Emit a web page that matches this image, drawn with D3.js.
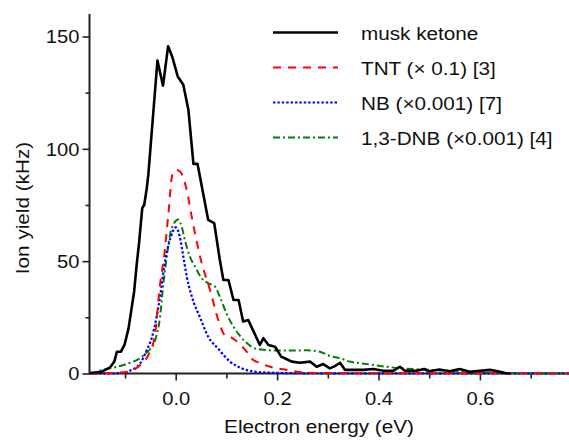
<!DOCTYPE html>
<html>
<head>
<meta charset="utf-8">
<script src="https://cdn.jsdelivr.net/npm/d3@7"></script>
<style>
    body { margin: 0; background: #fff; }
    #chart { width: 569px; height: 440px; }
    text { font-family: "Liberation Sans", Arial, sans-serif; fill: #111; }
</style>
</head>
<body>
<div id="chart"></div>
<script>
// electron attachment spectra

// musk ketone (black, jagged)
let mkE = [-0.169, -0.146, -0.130, -0.121, -0.116, -0.108, -0.101, -0.093, -0.087, -0.082, -0.077, -0.072,
    -0.066, -0.062, -0.057, -0.054, -0.044, -0.036, -0.025, -0.015, -0.007, 0.004, 0.015, 0.025, 0.035, 0.043,
    0.064, 0.076, 0.087, 0.094, 0.104, 0.114, 0.124, 0.133, 0.143, 0.166, 0.173, 0.183, 0.196, 0.208, 0.215,
    0.229, 0.245, 0.265, 0.278, 0.291, 0.304, 0.314, 0.324, 0.334, 0.350, 0.370, 0.390, 0.409, 0.429, 0.442,
    0.452, 0.475, 0.490, 0.500, 0.520, 0.540, 0.560, 0.580, 0.600, 0.620, 0.635, 0.650, 0.660];
let mkY = [0.2, 0.8, 2.6, 5.3, 9.7, 9.7, 12.7, 20.1, 29.0, 36.4, 48.3, 58.7,
    73.6, 75.1, 82.5, 88.4, 116.6, 139.3, 128.1, 145.6, 141.1, 132.2, 128.5, 117.4, 93.3, 93.3,
    68.4, 66.9, 50.6, 41.6, 41.6, 32.7, 32.7, 23.1, 23.8, 12.7, 15.7, 12.7, 11.9, 7.5, 6.8,
    5.3, 4.8, 5.3, 3.0, 4.2, 2.3, 3.3, 4.8, 1.6, 1.6, 1.6, 2.0, 1.2, 1.2, 3.0,
    1.2, 1.2, 2.0, 1.0, 1.8, 1.0, 2.0, 0.8, 1.2, 1.6, 1.0, 0.2, 0];

// TNT (x 0.1)
let tntE = [-0.169, -0.120, -0.093, -0.070, -0.054, -0.041, -0.031, -0.0225, -0.0146, -0.0067, 0.0, 0.0085,
    0.0217, 0.032, 0.0513, 0.0677, 0.084, 0.097, 0.107, 0.117, 0.137, 0.153, 0.163, 0.186, 0.219, 0.258,
    0.30, 0.40, 0.50, 0.60, 0.78];
let tntY = [0, 0.3, 0.8, 3.8, 8.2, 17.1, 39.4, 52.8, 70.6, 88.4, 90.6, 89.9,
    81.7, 69.3, 49.1, 37.2, 23.8, 17.1, 16.4, 14.9, 10.5, 6.0, 4.9, 3.0, 1.6, 0.4,
    0.2, 0.1, 0.1, 0.1, 0];

// NB (x0.001)
let nbE = [-0.169, -0.120, -0.103, -0.087, -0.070, -0.057, -0.047, -0.0375, -0.031, -0.021, -0.010, 0.0,
    0.008, 0.015, 0.022, 0.035, 0.048, 0.064, 0.084, 0.107, 0.130, 0.156, 0.196, 0.25, 0.78];
let nbY = [0, 0.1, 0.3, 1.6, 4.5, 10.5, 16, 25.5, 34, 50, 60.5, 65,
    61, 52, 43, 32, 25, 16.4, 11, 5.3, 2.3, 0.8, 0.3, 0.1, 0];

// 1,3-DNB (x0.001)
let dnbE = [-0.169, -0.159, -0.150, -0.130, -0.110, -0.090, -0.070, -0.060, -0.050, -0.041, -0.031, -0.0245,
    -0.018, -0.011, -0.003, 0.005, 0.0118, 0.018, 0.028, 0.038, 0.051, 0.064, 0.0775, 0.087, 0.100, 0.117,
    0.137, 0.156, 0.175, 0.216, 0.258, 0.284, 0.304, 0.324, 0.343, 0.364, 0.396, 0.416, 0.449, 0.475,
    0.541, 0.607, 0.65, 0.78];
let dnbY = [0, 0.3, 1.2, 2.3, 3.3, 4.8, 6.8, 8.8, 11, 14.5, 25, 39.4,
    51.3, 62, 67, 68.5, 65.4, 59.5, 52, 47.6, 42.5, 40.2, 38.7, 34.2, 26.8, 19.8,
    14.2, 11.2, 10.5, 10.2, 10.3, 9.7, 7.8, 6.8, 5.3, 4.6, 3.6, 3.0, 2.2, 1.9,
    1.2, 0.4, 0.2, 0.1];

let seriesNames = ["musk ketone", "TNT (\u00d7 0.1) [3]", "NB (\u00d70.001) [7]", "1,3-DNB (\u00d70.001) [4]"];
let xTicks = [0.0, 0.2, 0.4, 0.6];
let xMinorTicks = [-0.1, 0.1, 0.3, 0.5, 0.7];
let yTicks = [0, 50, 100, 150];
let yMinorTicks = [25, 75, 125];


class Spectrum {
    constructor(parentElement) {
        this.parentElement = parentElement;
        this.initVis()
    }

    initVis() {
        let vis = this;

        vis.width = 569;
        vis.height = 440;

        vis.svg = d3.select("#" + vis.parentElement).append("svg")
            .attr("width", vis.width)
            .attr("height", vis.height);

        vis.x = d3.scaleLinear().domain([-0.17, 0.78]).range([89.5, 571.2]);
        vis.y = d3.scaleLinear().domain([0, 160]).range([373.5, 14]);

        vis.wrangleData()
    }

    wrangleData() {
        let vis = this;

        let zipIt = (xs, ys) => xs.map((e, i) => ({e: e, v: ys[i]}));

        // styles for each curve: color, dash, width, curve
        vis.displayData = [
            {name: seriesNames[0], pts: zipIt(mkE, mkY), color: "#000", dash: null, w: 2.6, curve: d3.curveLinear},
            {name: seriesNames[1], pts: zipIt(tntE, tntY), color: "#ff0000", dash: "8,7", w: 2, curve: d3.curveMonotoneX},
            {name: seriesNames[2], pts: zipIt(nbE, nbY), color: "#0000ff", dash: "2.4,2", w: 2.2, curve: d3.curveMonotoneX},
            {name: seriesNames[3], pts: zipIt(dnbE, dnbY), color: "#008000", dash: "7,3,2,3", w: 2, curve: d3.curveMonotoneX}
        ];

        vis.updateVis()
    }

    updateVis() {
        let vis = this;
        let stretch = "scale(1.12,1)";

        // axes
        let xAxis = vis.svg.append("g")
            .attr("transform", `translate(0, ${vis.y(0)})`)
            .call(d3.axisBottom(vis.x).tickValues(xTicks).tickSize(7).tickFormat(d3.format(".1f")));
        xAxis.append("g")
            .call(d3.axisBottom(vis.x).tickValues(xMinorTicks).tickSize(5).tickFormat(""));
        xAxis.selectAll("path.domain").remove();
        xAxis.append("line")
            .attr("x1", vis.x.range()[0]).attr("x2", vis.x.range()[1])
            .attr("stroke", "#222").attr("stroke-width", 2);

        let yAxis = vis.svg.append("g")
            .attr("transform", `translate(${vis.x(-0.17)}, 0)`)
            .call(d3.axisLeft(vis.y).tickValues(yTicks).tickSize(7).tickFormat(d3.format("d")));
        yAxis.append("g")
            .call(d3.axisLeft(vis.y).tickValues(yMinorTicks).tickSize(4).tickFormat(""));
        yAxis.selectAll("path.domain").remove();
        yAxis.append("line")
            .attr("y1", vis.y.range()[0] + 1).attr("y2", vis.y.range()[1])
            .attr("stroke", "#222").attr("stroke-width", 2);

        vis.svg.selectAll(".tick line").attr("stroke", "#222").attr("stroke-width", 1.6);

        // tick labels: a bit wider than plain Arial in the original
        xAxis.selectAll(".tick text")
            .attr("font-size", "18px")
            .attr("fill", "#111")
            .attr("y", 0)
            .attr("dy", 0)
            .attr("transform", `translate(0, 31) ${stretch}`);
        yAxis.selectAll(".tick text")
            .attr("font-size", "18px")
            .attr("fill", "#111")
            .attr("x", 0)
            .attr("dy", "0.36em")
            .attr("transform", `translate(-10, 0) ${stretch}`);

        // curves
        let line = d3.line().x(d => vis.x(d.e)).y(d => vis.y(d.v));

        vis.svg.selectAll(".curve")
            .data(vis.displayData.slice().reverse())
            .join("path")
            .attr("class", "curve")
            .attr("d", d => line.curve(d.curve)(d.pts))
            .attr("fill", "none")
            .attr("stroke", d => d.color)
            .attr("stroke-width", d => d.w)
            .attr("stroke-dasharray", d => d.dash)
            .attr("stroke-linejoin", "round");

        // axis titles
        vis.svg.append("text")
            .attr("transform", `translate(319, 433) ${stretch}`)
            .attr("text-anchor", "middle")
            .attr("font-size", "18.5px")
            .text("Electron energy (eV)");

        vis.svg.append("text")
            .attr("transform", `translate(29, 208) rotate(-90) ${stretch}`)
            .attr("text-anchor", "middle")
            .attr("font-size", "18.5px")
            .text("Ion yield (kHz)");

        // legend
        let legend = vis.svg.selectAll(".legend")
            .data(vis.displayData)
            .join("g")
            .attr("class", "legend")
            .attr("transform", (d, i) => `translate(273, ${32.5 + i * 35})`);

        legend.append("line")
            .attr("x1", 0).attr("x2", 65)
            .attr("stroke", d => d.color)
            .attr("stroke-width", d => d.w)
            .attr("stroke-dasharray", d => d.dash);

        legend.append("text")
            .attr("transform", `translate(88, 7) ${stretch}`)
            .attr("font-size", "18.5px")
            .text(d => d.name);
    }
}

new Spectrum("chart");
</script>
</body>
</html>
